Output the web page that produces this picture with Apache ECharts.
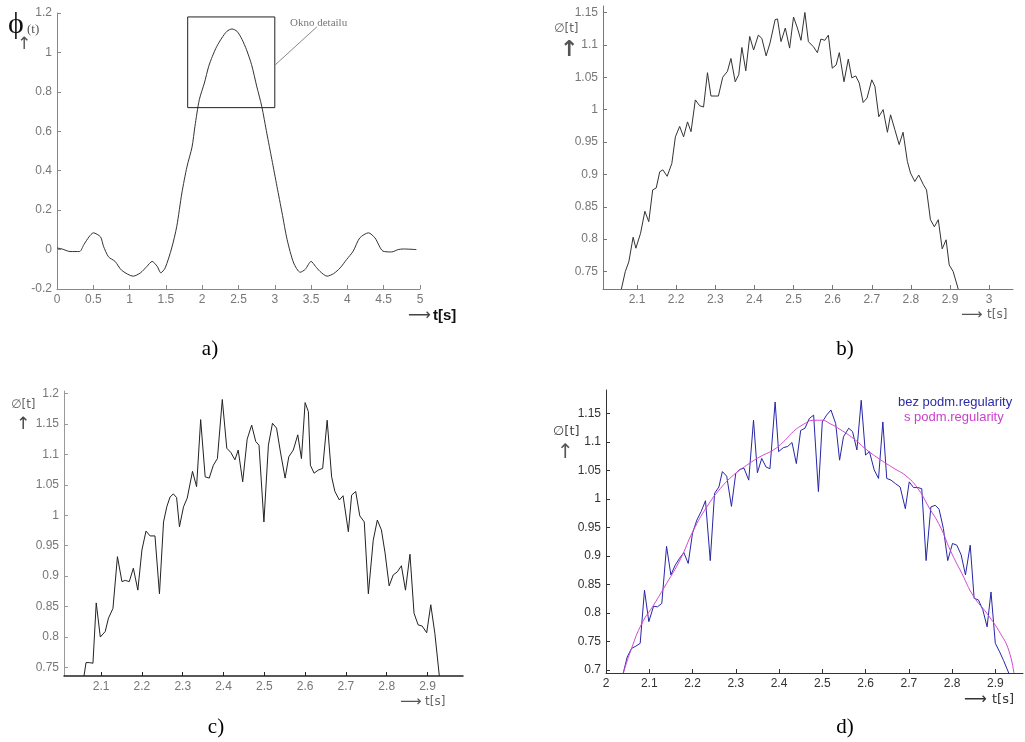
<!DOCTYPE html>
<html><head><meta charset="utf-8">
<script src="https://cdn.jsdelivr.net/npm/echarts@6/dist/echarts.min.js"></script>
<style>html,body{margin:0;padding:0;background:#fff}#c{width:1025px;height:742px}</style>
</head><body><div id="c"></div>
<script>
// ---- data ----
var aTicksX = [0,0.5,1,1.5,2,2.5,3,3.5,4,4.5,5];
var aTicksY = [-0.2,0,0.2,0.4,0.6,0.8,1,1.2];
var aCurve = [[0,0.008],[0.07,0.003],[0.18,-0.01],[0.31,-0.01],[0.37,0.025],[0.44,0.064],[0.5,0.085],[0.6,0.064],[0.64,0.017],[0.71,-0.037],[0.8,-0.06],[0.89,-0.105],[1.05,-0.135],[1.15,-0.118],[1.24,-0.085],[1.31,-0.06],[1.38,-0.085],[1.43,-0.118],[1.49,-0.093],[1.58,0.008],[1.65,0.118],[1.72,0.287],[1.79,0.42],[1.86,0.52],[1.9,0.625],[1.96,0.76],[2.03,0.845],[2.09,0.93],[2.14,0.98],[2.2,1.03],[2.27,1.073],[2.34,1.107],[2.41,1.119],[2.48,1.107],[2.55,1.065],[2.61,1.014],[2.68,0.938],[2.75,0.83],[2.82,0.727],[2.89,0.59],[2.96,0.456],[3.03,0.32],[3.1,0.186],[3.17,0.05],[3.26,-0.068],[3.35,-0.115],[3.42,-0.1],[3.5,-0.06],[3.56,-0.085],[3.62,-0.11],[3.72,-0.135],[3.81,-0.122],[3.9,-0.093],[3.99,-0.05],[4.08,-0.008],[4.17,0.059],[4.29,0.085],[4.38,0.059],[4.49,-0.008],[4.61,-0.012],[4.7,0],[4.77,0.003],[4.95,0]];
var aWindow = [[1.8,0.72],[1.8,1.18],[3.0,1.18],[3.0,0.72],[1.8,0.72]];
var aArrow = [[3.58,1.13],[3.0,0.935]];
var aNote = 'Okno detailu';

var bTicksX = [2.1,2.2,2.3,2.4,2.5,2.6,2.7,2.8,2.9,3];
var bTicksY = [0.75,0.8,0.85,0.9,0.95,1,1.05,1.1,1.15];
var bCurve = [[2.06,0.723],[2.07,0.75],[2.079,0.765],[2.09,0.803],[2.097,0.786],[2.109,0.809],[2.12,0.843],[2.13,0.827],[2.14,0.876],[2.149,0.879],[2.158,0.904],[2.166,0.907],[2.177,0.897],[2.189,0.917],[2.198,0.958],[2.209,0.974],[2.219,0.958],[2.229,0.981],[2.238,0.966],[2.249,1.015],[2.26,1.006],[2.27,1.004],[2.28,1.057],[2.289,1.021],[2.308,1.021],[2.319,1.05],[2.331,1.059],[2.34,1.079],[2.351,1.043],[2.36,1.054],[2.368,1.096],[2.378,1.06],[2.388,1.113],[2.398,1.092],[2.41,1.115],[2.419,1.11],[2.43,1.083],[2.44,1.103],[2.453,1.139],[2.459,1.14],[2.468,1.105],[2.479,1.126],[2.49,1.095],[2.5,1.143],[2.51,1.126],[2.519,1.107],[2.529,1.15],[2.538,1.105],[2.551,1.097],[2.561,1.088],[2.57,1.109],[2.58,1.107],[2.589,1.115],[2.599,1.064],[2.609,1.069],[2.617,1.088],[2.629,1.043],[2.64,1.078],[2.649,1.049],[2.659,1.052],[2.668,1.041],[2.678,1.011],[2.688,1.018],[2.7,1.046],[2.708,1.036],[2.718,0.989],[2.729,1.0],[2.74,0.965],[2.748,0.992],[2.759,0.969],[2.77,0.946],[2.78,0.965],[2.791,0.92],[2.799,0.902],[2.81,0.889],[2.82,0.899],[2.832,0.884],[2.84,0.876],[2.85,0.83],[2.86,0.819],[2.87,0.83],[2.88,0.785],[2.89,0.799],[2.898,0.76],[2.908,0.75],[2.921,0.723]];

var cTicksX = [2.1,2.2,2.3,2.4,2.5,2.6,2.7,2.8,2.9];
var cTicksY = [0.75,0.8,0.85,0.9,0.95,1,1.05,1.1,1.15,1.2];
var cCurve = [[2.058,0.736],[2.063,0.758],[2.071,0.758],[2.08,0.757],[2.088,0.856],[2.098,0.8],[2.11,0.809],[2.118,0.831],[2.129,0.847],[2.14,0.932],[2.151,0.891],[2.159,0.893],[2.169,0.891],[2.179,0.913],[2.19,0.877],[2.2,0.943],[2.21,0.974],[2.22,0.966],[2.232,0.966],[2.243,0.871],[2.253,0.989],[2.261,1.014],[2.269,1.03],[2.277,1.035],[2.285,1.029],[2.292,0.981],[2.302,1.014],[2.311,1.028],[2.324,1.072],[2.334,1.047],[2.344,1.157],[2.355,1.063],[2.365,1.061],[2.375,1.082],[2.385,1.093],[2.397,1.19],[2.408,1.11],[2.418,1.103],[2.428,1.091],[2.436,1.107],[2.447,1.055],[2.458,1.125],[2.469,1.148],[2.479,1.121],[2.487,1.115],[2.499,0.989],[2.51,1.115],[2.52,1.151],[2.53,1.143],[2.54,1.102],[2.551,1.061],[2.56,1.096],[2.571,1.107],[2.582,1.132],[2.591,1.093],[2.6,1.185],[2.608,1.17],[2.613,1.082],[2.622,1.069],[2.632,1.074],[2.643,1.077],[2.654,1.156],[2.665,1.063],[2.673,1.039],[2.684,1.025],[2.693,1.032],[2.706,0.973],[2.714,1.033],[2.724,1.039],[2.734,0.999],[2.745,0.989],[2.755,0.871],[2.767,0.959],[2.777,0.992],[2.787,0.976],[2.796,0.938],[2.806,0.884],[2.816,0.902],[2.826,0.907],[2.836,0.917],[2.846,0.877],[2.857,0.936],[2.867,0.839],[2.877,0.82],[2.887,0.818],[2.898,0.807],[2.908,0.853],[2.918,0.806],[2.929,0.736]];

var dTicksX = [2,2.1,2.2,2.3,2.4,2.5,2.6,2.7,2.8,2.9];
var dTicksY = [0.7,0.75,0.8,0.85,0.9,0.95,1,1.05,1.1,1.15];
var dNames = ['bez podm.regularity','s podm.regularity'];
var dBlue = [[2.04,0.695],[2.049,0.723],[2.059,0.738],[2.069,0.742],[2.079,0.747],[2.089,0.84],[2.099,0.785],[2.11,0.812],[2.119,0.811],[2.129,0.817],[2.14,0.917],[2.15,0.867],[2.16,0.884],[2.17,0.896],[2.18,0.906],[2.19,0.887],[2.2,0.94],[2.21,0.963],[2.22,0.978],[2.23,0.997],[2.241,0.892],[2.251,1.01],[2.261,1.021],[2.269,1.048],[2.279,1.04],[2.29,0.987],[2.3,1.045],[2.31,1.052],[2.319,1.054],[2.33,1.033],[2.341,1.138],[2.35,1.046],[2.36,1.071],[2.37,1.056],[2.379,1.053],[2.391,1.17],[2.399,1.083],[2.41,1.09],[2.42,1.092],[2.43,1.099],[2.44,1.062],[2.45,1.12],[2.46,1.124],[2.47,1.141],[2.48,1.147],[2.491,1.013],[2.5,1.135],[2.51,1.147],[2.52,1.156],[2.531,1.132],[2.54,1.068],[2.549,1.109],[2.561,1.124],[2.57,1.118],[2.58,1.086],[2.59,1.173],[2.6,1.077],[2.609,1.083],[2.62,1.051],[2.63,1.036],[2.64,1.135],[2.649,1.036],[2.659,1.033],[2.669,1.027],[2.68,1.021],[2.692,0.983],[2.701,1.03],[2.711,1.02],[2.721,1.02],[2.73,1.018],[2.74,0.892],[2.751,0.986],[2.761,0.989],[2.77,0.982],[2.78,0.948],[2.79,0.892],[2.801,0.922],[2.811,0.919],[2.821,0.902],[2.831,0.867],[2.842,0.919],[2.851,0.826],[2.861,0.823],[2.871,0.806],[2.881,0.776],[2.89,0.837],[2.9,0.747],[2.91,0.732],[2.919,0.717],[2.931,0.695]];
var dMagenta = [[2.04,0.695],[2.059,0.738],[2.083,0.782],[2.11,0.814],[2.14,0.852],[2.171,0.893],[2.202,0.945],[2.233,0.986],[2.264,1.018],[2.295,1.042],[2.325,1.059],[2.356,1.074],[2.387,1.086],[2.41,1.1],[2.433,1.118],[2.457,1.131],[2.48,1.138],[2.499,1.138],[2.518,1.132],[2.541,1.122],[2.572,1.106],[2.603,1.086],[2.634,1.069],[2.665,1.054],[2.696,1.039],[2.723,1.016],[2.746,0.986],[2.773,0.951],[2.796,0.91],[2.823,0.869],[2.85,0.829],[2.881,0.799],[2.912,0.764],[2.931,0.735],[2.943,0.695]];

// ---- chart ----
var SANS = '"Liberation Sans", Arial, sans-serif';
var SERIF = '"Liberation Serif", "Times New Roman", serif';
var DJ = '"DejaVu Sans", sans-serif';

function xAx(gi, min, max, ticks, lineColor, labelColor, lineW){
  return {type:'value', gridIndex:gi, min:min, max:max,
    axisLine:{show:true, onZero:false, lineStyle:{color:lineColor, width:lineW||1}},
    axisTick:{show:true, inside:true, length:4, customValues:ticks, lineStyle:{color:lineColor}},
    axisLabel:{show:true, customValues:ticks, color:labelColor, fontFamily:SANS, fontSize:12, margin:5, showMinLabel:true, showMaxLabel:true},
    splitLine:{show:false}};
}
function yAx(gi, min, max, ticks, lineColor, labelColor){
  return {type:'value', gridIndex:gi, min:min, max:max,
    axisLine:{show:true, onZero:false, lineStyle:{color:lineColor, width:1}},
    axisTick:{show:true, inside:true, length:4, customValues:ticks, lineStyle:{color:lineColor}},
    axisLabel:{show:true, customValues:ticks, color:labelColor, fontFamily:SANS, fontSize:12, margin:5, showMinLabel:true, showMaxLabel:true},
    splitLine:{show:false}};
}
function lineSeries(name, xi, data, color, smooth){
  return {name:name, type:'line', xAxisIndex:xi, yAxisIndex:xi, data:data, showSymbol:false, symbol:'none',
    smooth:smooth||false, clip:true, lineStyle:{color:color, width:1}, itemStyle:{color:color}, silent:true, animation:false};
}
function txt(text, x, y, font, fill, align){
  return {type:'text', x:x, y:y, silent:true, style:{text:text, font:font, fill:fill, align:align||'left', verticalAlign:'middle'}};
}

var chart = echarts.init(document.getElementById('c'), null, {renderer:'canvas'});
var option = {
  backgroundColor:'#fff',
  animation:false,
  grid:[
    {left:57, top:13, width:363, height:276, outerBoundsMode:'none', containLabel:false},
    {left:603, top:6, width:410, height:283, outerBoundsMode:'none', containLabel:false},
    {left:64, top:391, width:399, height:285, outerBoundsMode:'none', containLabel:false},
    {left:606, top:390, width:417, height:283, outerBoundsMode:'none', containLabel:false}
  ],
  xAxis:[
    xAx(0, 0, 5, aTicksX, '#888', '#777'),
    xAx(1, 2.013, 3.061, bTicksX, '#777', '#777'),
    xAx(2, 2.009, 2.987, cTicksX, '#222', '#777', 1.5),
    xAx(3, 2.0, 2.964, dTicksX, '#333', '#333')
  ],
  yAxis:[
    yAx(0, -0.2, 1.2, aTicksY, '#888', '#777'),
    yAx(1, 0.723, 1.16, bTicksY, '#777', '#777'),
    yAx(2, 0.736, 1.204, cTicksY, '#999', '#777'),
    yAx(3, 0.695, 1.191, dTicksY, '#333', '#333')
  ],
  legend:[
    {data:[{name:dNames[0], icon:'none', textStyle:{color:'#2b2ba3'}}], left:893, top:395, itemWidth:0, itemGap:0, padding:0,
     textStyle:{fontFamily:SANS, fontSize:13}, selectedMode:false},
    {data:[{name:dNames[1], icon:'none', textStyle:{color:'#cc40cc'}}], left:899, top:410, itemWidth:0, itemGap:0, padding:0,
     textStyle:{fontFamily:SANS, fontSize:13}, selectedMode:false}
  ],
  series:[
    lineSeries('a', 0, aCurve, '#333', 0.25),
    {type:'line', xAxisIndex:0, yAxisIndex:0, data:aWindow, showSymbol:false, symbol:'none', silent:true, animation:false,
     lineStyle:{color:'#222', width:1},
     markLine:{silent:true, animation:false, symbol:['none','arrow'], symbolSize:[0,6],
       lineStyle:{color:'#888', width:1, type:'solid'}, label:{show:false},
       data:[[{coord:aArrow[0]},{coord:aArrow[1]}]]}},
    lineSeries('b', 1, bCurve, '#333'),
    lineSeries('c', 2, cCurve, '#222'),
    lineSeries(dNames[0], 3, dBlue, '#2626a6'),
    lineSeries(dNames[1], 3, dMagenta, '#d245d2', true)
  ],
  graphic:[
    // panel a
    txt('ϕ', 8, 25, '30px ' + SERIF, '#111'),
    txt('(t)', 27, 30, '13px ' + SERIF, '#555'),
    txt('↑', 17, 45, '17px ' + DJ, '#555'),
    txt(aNote, 290, 23, '11px ' + SERIF, '#777'),
    txt('⟶', 408, 316, '16px ' + DJ, '#444'),
    txt('t[s]', 433, 316, 'bold 15px ' + SANS, '#111'),
    txt('a)', 210, 349, '21px ' + SERIF, '#000', 'center'),
    // panel b
    txt('∅[t]', 554, 29, '12px ' + DJ, '#666'),
    txt('↑', 560, 50, 'bold 22px ' + DJ, '#555'),
    txt('⟶', 961, 315, '15px ' + DJ, '#555'),
    txt('t[s]', 987, 315, '12px ' + DJ, '#666'),
    txt('b)', 845, 349, '21px ' + SERIF, '#000', 'center'),
    // panel c
    txt('∅[t]', 11, 405, '12px ' + DJ, '#666'),
    txt('↑', 16, 425, '17px ' + DJ, '#444'),
    txt('⟶', 400, 702, '15px ' + DJ, '#555'),
    txt('t[s]', 425, 702, '12px ' + DJ, '#666'),
    txt('c)', 216, 727, '21px ' + SERIF, '#000', 'center'),
    // panel d
    txt('∅[t]', 553, 432, '13px ' + DJ, '#444'),
    txt('↑', 557, 453, '20px ' + DJ, '#555'),
    txt('⟶', 964, 700, '16px ' + DJ, '#333'),
    txt('t[s]', 992, 700, '13px ' + DJ, '#333'),
    txt('d)', 845, 727, '21px ' + SERIF, '#000', 'center')
  ]
};
chart.setOption(option);
</script>
</body></html>
